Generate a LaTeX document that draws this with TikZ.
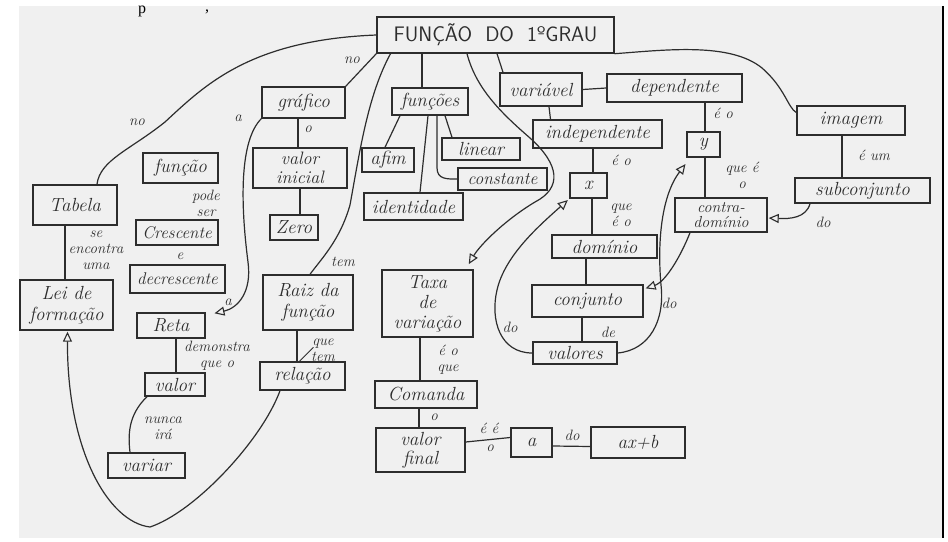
\documentclass[tikz,border=0pt]{standalone}
\usepackage{fontspec}
\setmainfont{Latin Modern Roman}
\newfontfamily\pageserif{Liberation Serif}
\usetikzlibrary{arrows.meta}
\definecolor{inkc}{RGB}{45,45,45}
\definecolor{paperc}{RGB}{240,240,240}
\newcommand\handfont{\fontsize{19}{19}\selectfont\itshape}
\newcommand\labfont{\fontsize{15}{16}\selectfont\itshape}
\newcommand\titlefont{\fontsize{21}{21}\selectfont\sffamily}
\tikzset{
  box/.style={draw=inkc, line width=1.4pt, rectangle, inner sep=0pt, align=center,
              font=\handfont, text=inkc},
  link/.style={draw=inkc, line width=1.2pt},
  lab/.style={font=\labfont, text=inkc, inner sep=1pt, align=center},
  arrowto/.style={-{Triangle[open,length=10pt,width=9pt,line width=1.1pt]}},
}
\begin{document}
\begin{tikzpicture}[x=1pt,y=-1pt]
\useasboundingbox (0,0) rectangle (948,541);
% sheet of paper
\fill[white] (0,0) rectangle (948,541);
\fill[paperc] (19,6) rectangle (943,538);
\draw[black, line width=2pt] (943,6) -- (943,538);
% page text above the sheet
\node[font=\pageserif\fontsize{16}{16}\selectfont, anchor=base, inner sep=0pt] (pgp) at (142,13) {p};
\node[font=\pageserif\fontsize{16}{16}\selectfont, anchor=base, inner sep=0pt] (pgc) at (207,11) {,};

% concepts
\node[box, minimum width=237, minimum height=36, font=\titlefont] (title) at (495.5,35) {FUNÇÃO\ \ DO\ \ 1ºGRAU};
\node[box, minimum width=83, minimum height=31] (grafico) at (303.5,102.5) {gráfico};
\node[box, minimum width=94, minimum height=40, font=\fontsize{18}{19}\selectfont\itshape] (valorinicial) at (300,168) {valor\\inicial};
\node[box, minimum width=48, minimum height=25] (zero) at (294,227.5) {Zero};
\node[box, minimum width=75, minimum height=30] (funcao) at (180.5,168) {função};
\node[box, minimum width=82, minimum height=25, font=\fontsize{17}{17}\selectfont\itshape] (crescente) at (177,232.5) {Crescente};
\node[box, minimum width=95, minimum height=28, font=\fontsize{17}{17}\selectfont\itshape] (decrescente) at (177.5,279) {decrescente};
\node[box, minimum width=84, minimum height=40] (tabela) at (75,205) {Tabela};
\node[box, minimum width=93, minimum height=50, font=\fontsize{19}{21}\selectfont\itshape] (lei) at (66.5,305) {Lei de\\formação};
\node[box, minimum width=68, minimum height=25] (reta) at (171,325.5) {Reta};
\node[box, minimum width=60, minimum height=23] (valor) at (175,384.5) {valor};
\node[box, minimum width=77, minimum height=25] (variar) at (146.5,465.5) {variar};
\node[box, minimum width=90, minimum height=55, font=\fontsize{19}{21}\selectfont\itshape] (raiz) at (308,302.5) {Raiz da\\função};
\node[box, minimum width=85, minimum height=28] (relacao) at (302.5,376) {relação};
\node[box, minimum width=76, minimum height=27] (funcoes) at (430,101.5) {funções};
\node[box, minimum width=52, minimum height=24] (afim) at (388,160) {afim};
\node[box, minimum width=78, minimum height=22] (linear) at (481,149) {linear};
\node[box, minimum width=89, minimum height=22, font=\fontsize{17.5}{17}\selectfont\itshape] (constante) at (502.5,179) {constante};
\node[box, minimum width=99, minimum height=27] (identidade) at (413.5,206.5) {identidade};
\node[box, minimum width=82, minimum height=33] (variavel) at (541,89.5) {variável};
\node[box, minimum width=135, minimum height=28] (dependente) at (674.5,88) {dependente};
\node[box, minimum width=129, minimum height=28] (independente) at (597.5,134) {independente};
\node[box, minimum width=37, minimum height=25] (xbox) at (588.5,185.5) {x};
\node[box, minimum width=33, minimum height=25] (ybox) at (703.5,144.5) {y};
\node[box, minimum width=92, minimum height=34, font=\fontsize{16}{15.5}\selectfont\itshape] (contra) at (721,215) {contra-\\domínio};
\node[box, minimum width=105, minimum height=23] (dominio) at (604.5,246.5) {domínio};
\node[box, minimum width=111, minimum height=32] (conjunto) at (587.5,301) {conjunto};
\node[box, minimum width=84, minimum height=22] (valores) at (575,353) {valores};
\node[box, minimum width=91, minimum height=67, font=\fontsize{19}{20}\selectfont\itshape] (taxa) at (427.5,303.5) {Taxa\\de\\variação};
\node[box, minimum width=108, minimum height=29] (imagem) at (851,120.5) {imagem};
\node[box, minimum width=135, minimum height=25] (subconjunto) at (862.5,190.5) {subconjunto};
\node[box, minimum width=102, minimum height=27] (comanda) at (426,394.5) {Comanda};
\node[box, minimum width=89, minimum height=44, font=\fontsize{19}{19}\selectfont\itshape] (valorfinal) at (420.5,450) {valor\\final};
\node[box, minimum width=41, minimum height=29] (abox) at (531.5,442.5) {a};
\node[box, minimum width=94, minimum height=31] (axb) at (638,442.5) {ax+b};

% links from the title
\draw[link] (title.west) .. controls (250,40) and (205,85) .. (165,122)
            .. controls (130,150) and (100,160) .. ([xshift=22]tabela.north);
\draw[link] (title.south west) -- (grafico.north east);
\draw[link] ([xshift=-73.5]title.south) -- ([xshift=-8]funcoes.north);
\draw[link] ([xshift=-105]title.south) .. controls (368,95) and (360,150) .. (350,205)
            .. controls (340,240) and (322,258) .. ([xshift=2]raiz.north);
\draw[link, arrowto, shorten >=6pt] ([xshift=-28.5]title.south) .. controls (476,88) and (500,112) .. (530,138)
            .. controls (560,165) and (562,188) .. (535,202)
            .. controls (505,220) and (480,245) .. ([xshift=-8]taxa.north east);
\draw[link] ([xshift=1.5]title.south) -- ([xshift=-38]variavel.north);
\draw[link] (title.south east) .. controls (665,50) and (730,42) .. (762,68)
            .. controls (785,88) and (788,108) .. ([yshift=8]imagem.west);

% left branch
\draw[link, arrowto, shorten >=9pt] (grafico.south west) .. controls (240,140) and (240,200) .. (248,262)
            .. controls (252,292) and (238,308) .. ([yshift=-3]reta.north east);
\draw[link] ([xshift=-5.5]grafico.south) -- ([xshift=-2]valorinicial.north);
\draw[link] (valorinicial.south) -- ([xshift=6]zero.north);
\draw[link] ([xshift=-10]tabela.south) -- ([xshift=-1.5]lei.north);
\draw[link] ([xshift=5]reta.south) -- ([xshift=1]valor.north);
\draw[link] ([xshift=-28]valor.south) .. controls (128,415) and (128,435) .. ([xshift=-16.5]variar.north);
\draw[link] ([xshift=-11]raiz.south) -- ([xshift=-5.5]relacao.north);
\draw[link, line width=0.8pt] ([xshift=-3]relacao.north) -- ++(14,-14);
\draw[link, arrowto, shorten >=1pt] ([xshift=-22.5]relacao.south) .. controls (262,440) and (195,512) .. (150,527)
            .. controls (108,522) and (67,450) .. ([xshift=1]lei.south);

% functions branch
\draw[link] ([xshift=-30]funcoes.south) -- ([xshift=-3]afim.north);
\draw[link] ([xshift=-2]funcoes.south) -- ([xshift=6.5]identidade.north);
\draw[link] ([xshift=15]funcoes.south) -- ([xshift=-29]linear.north);
\draw[link] ([xshift=7]funcoes.south) -- ++(0,52) .. controls +(0,12) and +(-10,0) .. (constante.west);

% variable branch
\draw[link] (variavel.east) -- (dependente.west);
\draw[link] ([xshift=8]variavel.south) -- ([xshift=-47]independente.north);
\draw[link] ([xshift=30.5]dependente.south) -- ([xshift=1.5]ybox.north);
\draw[link] ([xshift=-4.5]independente.south) -- ([xshift=4.5]xbox.north);
\draw[link] ([xshift=1.5]ybox.south) -- ([xshift=-16]contra.north);
\draw[link] ([xshift=3.5]xbox.south) -- ([xshift=-12.5]dominio.north);
\draw[link] ([xshift=-18.5]dominio.south) -- ([xshift=-1.5]conjunto.north);
\draw[link] ([xshift=-5.5]conjunto.south) -- ([xshift=7]valores.north);
\draw[link, arrowto, shorten >=2pt] (valores.west) .. controls (500,353) and (490,320) .. (497,290)
            .. controls (505,255) and (540,225) .. (xbox.south west);
\draw[link, arrowto, shorten >=8pt] (valores.east) .. controls (650,350) and (665,320) .. (661,285)
            .. controls (657,240) and (662,195) .. ([xshift=4]ybox.south west);
\draw[link, arrowto, shorten >=2pt] ([xshift=-31]contra.south) .. controls (680,258) and (665,282) .. ([yshift=12]conjunto.east);
\draw[link, arrowto, shorten >=1pt] ([xshift=-52.5]subconjunto.south) .. controls (806,218) and (790,219) .. ([yshift=-3]contra.east);
\draw[link] ([xshift=-9]imagem.south) -- ([xshift=-20.5]subconjunto.north);

% rate branch
\draw[link] ([xshift=-7.5]taxa.south) -- ([xshift=-6]comanda.north);
\draw[link] ([xshift=-7]comanda.south) -- ([xshift=-1.5]valorfinal.north);
\draw[link] ([yshift=8]valorfinal.east) -- ([yshift=5]abox.west);
\draw[link] ([yshift=-3.5]abox.east) -- ([yshift=-4]axb.west);

% linking words
\node[lab] (lno1) at (137,122) {no};
\node[lab] (lno2) at (352,60) {no};
\node[lab] (la1) at (238,118) {a};
\node[lab] (la2) at (228,302) {a};
\node[lab] (ltem) at (343,262) {tem};
\node[lab] (lpode) at (206,203) {pode\\ser};
\node[lab] (le) at (180,256) {e};
\node[lab] (lse) at (96,250) {se\\encontra\\uma};
\node[lab] (lo1) at (308,129) {o};
\node[lab] (ldem) at (217,356) {demonstra\\que o};
\node[lab] (lnunca) at (163,428) {nunca\\irá};
\node[lab] (lque) at (323,350) {que\\tem};
\node[lab] (leo1) at (723,113) {é o};
\node[lab] (leo2) at (621,160) {é o};
\node[lab] (lquee) at (742,175) {que é\\o};
\node[lab] (lqueeo) at (621,215) {que\\é o};
\node[lab] (lde) at (608,332) {de};
\node[lab] (ldo1) at (510,327) {do};
\node[lab] (ldo2) at (669,303) {do};
\node[lab] (ldo3) at (823,222) {do};
\node[lab] (leum) at (874,155) {é um};
\node[lab] (leoq) at (448,360) {é o\\que};
\node[lab] (lo2) at (434,417) {o};
\node[lab] (lee) at (489,428) {é é};
\node[lab] (lo3) at (490,448) {o};
\node[lab] (ldo4) at (572,435) {do};
\end{tikzpicture}
\end{document}
